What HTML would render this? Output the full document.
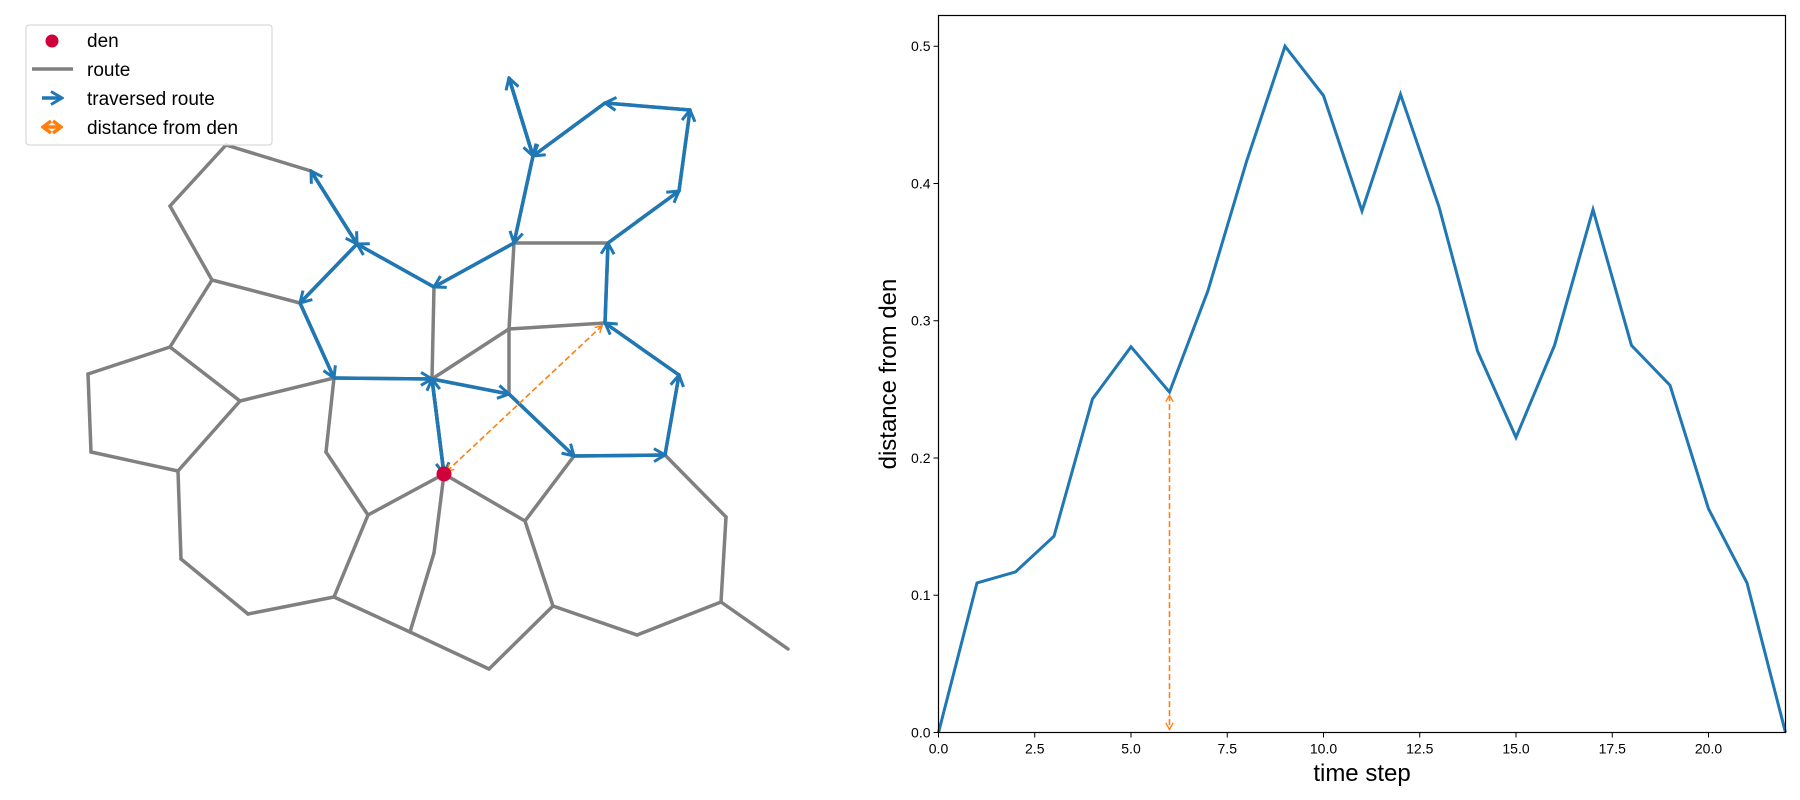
<!DOCTYPE html>
<html><head><meta charset="utf-8"><style>
body{margin:0;background:#fff;}
svg{display:block;font-family:"Liberation Sans","DejaVu Sans",sans-serif;}
</style></head><body>
<svg id="s" width="1800" height="800" viewBox="0 0 1800 800" xmlns="http://www.w3.org/2000/svg">
<defs>
<marker id="ab" viewBox="-14 -8 16 16" refX="0" refY="0" markerWidth="16" markerHeight="16" markerUnits="userSpaceOnUse" orient="auto-start-reverse"><path d="M-11,-6.5 L0,0 L-11,6.5" fill="none" stroke="#1f77b4" stroke-width="3"/></marker>
<marker id="ao" viewBox="-10 -6 12 12" refX="0" refY="0" markerWidth="10" markerHeight="10" markerUnits="userSpaceOnUse" orient="auto-start-reverse"><path d="M-8,-4.5 L0,0 L-8,4.5" fill="none" stroke="#ff7f0e" stroke-width="1.6"/></marker>
<marker id="aol" viewBox="-14 -8 16 16" refX="0" refY="0" markerWidth="16" markerHeight="16" markerUnits="userSpaceOnUse" orient="auto-start-reverse"><path d="M-8,-6 L0,0 L-8,6" fill="none" stroke="#ff7f0e" stroke-width="3.5"/></marker>
</defs>
<g id="net"></g>
<g id="chart"></g>
<g>
<rect x="26" y="25" width="246" height="120" rx="3" fill="#fff" fill-opacity="0.8" stroke="#d0d0d0"/>
<circle cx="52" cy="41" r="6.5" fill="#d0003a"/>
<text x="87" y="47" font-size="19">den</text>
<line x1="32" y1="69" x2="73" y2="69" stroke="#808080" stroke-width="3.5"/>
<text x="87" y="76" font-size="19">route</text>
<line x1="42" y1="98" x2="62" y2="98" stroke="#1f77b4" stroke-width="3.5" marker-end="url(#ab)"/>
<text x="87" y="105" font-size="19">traversed route</text>
<line x1="43" y1="127" x2="61" y2="127" stroke="#ff7f0e" stroke-width="3.5" marker-start="url(#aol)" marker-end="url(#aol)"/>
<text x="87" y="134" font-size="19">distance from den</text>
</g>
</svg>
<script>
const NS='http://www.w3.org/2000/svg';
function mk(tag,attrs,parent){const e=document.createElementNS(NS,tag);for(const k in attrs)e.setAttribute(k,attrs[k]);parent.appendChild(e);return e;}
// ---- network ----
const nodeNames=['A','B','C','D','E','F','G','H','I','J','K','L','M','N','O','P','Q','R','S','T','U','V','W','X','Y','Z','AA','AB','AC','AD','AE','AF','AG','AH','AI','AJ','AK','AL','AM','AN','AO','AP'];
const nodeX=[226,311,170,357,212,300,170,88,334,240,509,533,605,690,679,514,608,434,509,605,432,509,679,444,574,665,525,726,434,553,721,788,637,489,410,91,178,326,368,181,248,334];
const nodeY=[145,171,206,244,280,303,347,374,378,401,78,156,103,110,191,243,243,287,329,323,379,394,375,474,456,455,521,517,553,606,602,649,635,669,632,452,471,452,515,559,614,597];
const routeEdges=[['A','B'],['A','C'],['C','E'],['E','F'],['E','G'],['G','H'],['G','J'],['H','AJ'],['AJ','AK'],['AK','J'],['AK','AN'],['AN','AO'],['AO','AP'],['AP','AM'],['AM','AL'],['AL','I'],['I','J'],['AM','X'],['AP','AI'],['AI','AH'],['AI','AC'],['AC','X'],['X','AA'],['AA','Y'],['AA','AD'],['AD','AH'],['AD','AG'],['AG','AE'],['AE','AB'],['AB','Z'],['AE','AF'],['R','U'],['P','Q'],['P','S'],['S','V'],['S','T'],['S','U'],['B','D'],['D','F'],['D','R'],['F','I'],['I','U'],['R','P'],['P','L'],['L','K'],['L','M'],['M','N'],['N','O'],['O','Q'],['Q','T'],['U','V'],['V','Y'],['Y','Z'],['Z','W'],['W','T'],['U','X']];
const path=['X','U','V','Y','Z','W','T','Q','O','N','M','L','K','L','P','R','D','B','D','F','I','U','X'];
const distIdx=6;
const net=document.getElementById('net');
const P=n=>{const i=nodeNames.indexOf(n);return [nodeX[i],nodeY[i]];};
routeEdges.forEach(e=>{const a=P(e[0]),b=P(e[1]);
 const l=mk('line',{x1:a[0],y1:a[1],x2:b[0],y2:b[1],stroke:'#808080','stroke-width':3.5,'stroke-linecap':'round'},net);
 
 });
for(let i=0;i<path.length-1;i++){const a=P(path[i]),b=P(path[i+1]);
 const l=mk('line',{x1:a[0],y1:a[1],x2:b[0],y2:b[1],stroke:'#1f77b4','stroke-width':3.5,'marker-end':'url(#ab)'},net);
 
 }
{const a=P(path[0]),b=P(path[distIdx]);const dx=b[0]-a[0],dy=b[1]-a[1],L=Math.hypot(dx,dy),u=4/L;
 const l=mk('line',{x1:a[0]+dx*u,y1:a[1]+dy*u,x2:b[0]-dx*u,y2:b[1]-dy*u,stroke:'#ff7f0e','stroke-width':1.6,'stroke-dasharray':'6,3','marker-start':'url(#ao)','marker-end':'url(#ao)'},net);
 
 }
{const d=P('X');const c=mk('circle',{cx:d[0],cy:d[1],r:7.5,fill:'#d0003a'},net);
 
 }
// ---- chart ----
const steps=[0,1,2,3,4,5,6,7,8,9,10,11,12,13,14,15,16,17,18,19,20,21,22];
const distances=[0,0.109,0.117,0.143,0.243,0.281,0.248,0.322,0.416,0.500,0.464,0.380,0.465,0.383,0.278,0.215,0.282,0.381,0.282,0.253,0.163,0.109,0];
const xTicks=[0,2.5,5,7.5,10,12.5,15,17.5,20];
const xTickLabels=['0.0','2.5','5.0','7.5','10.0','12.5','15.0','17.5','20.0'];
const yTicks=[0,0.1,0.2,0.3,0.4,0.5];
const yTickLabels=['0.0','0.1','0.2','0.3','0.4','0.5'];
const highlightStep=6;
const L0=938.5,R0=1785.5,T0=15.5,B0=732.5,XMAX=22,YMAX=0.5224;
const sx=v=>L0+(v/XMAX)*(R0-L0), sy=v=>B0-(v/YMAX)*(B0-T0);
const ch=document.getElementById('chart');
let pts=steps.map((s,i)=>sx(s).toFixed(2)+','+sy(distances[i]).toFixed(2)).join(' ');
const pl=mk('polyline',{points:pts,fill:'none',stroke:'#1f77b4','stroke-width':3,'stroke-linejoin':'miter'},ch);


{const x=sx(highlightStep);const l=mk('line',{x1:x,y1:sy(distances[highlightStep])+3,x2:x,y2:sy(0)-3,stroke:'#ff7f0e','stroke-width':1.6,'stroke-dasharray':'6,3','marker-start':'url(#ao)','marker-end':'url(#ao)'},ch);
 
 }
const fr=mk('rect',{x:L0,y:T0,width:R0-L0,height:B0-T0,fill:'none',stroke:'#000','stroke-width':1.2},ch);


xTicks.forEach((v,i)=>{const x=sx(v);mk('line',{x1:x,y1:B0,x2:x,y2:B0+5,stroke:'#000','stroke-width':1},ch);
 const t=mk('text',{x:x,y:B0+21,'font-size':14,'text-anchor':'middle'},ch);t.textContent=xTickLabels[i];
 
 });
yTicks.forEach((v,i)=>{const y=sy(v);mk('line',{x1:L0-5,y1:y,x2:L0,y2:y,stroke:'#000','stroke-width':1},ch);
 const t=mk('text',{x:L0-8,y:y+5,'font-size':14,'text-anchor':'end'},ch);t.textContent=yTickLabels[i];
 
 });
const xl=mk('text',{x:(L0+R0)/2,y:781,'font-size':24,'text-anchor':'middle'},ch);xl.textContent='time step';


const yl=mk('text',{x:0,y:0,'font-size':24,'text-anchor':'middle',transform:'translate(896,'+((T0+B0)/2)+') rotate(-90)'},ch);yl.textContent='distance from den';


</script>
</body></html>
